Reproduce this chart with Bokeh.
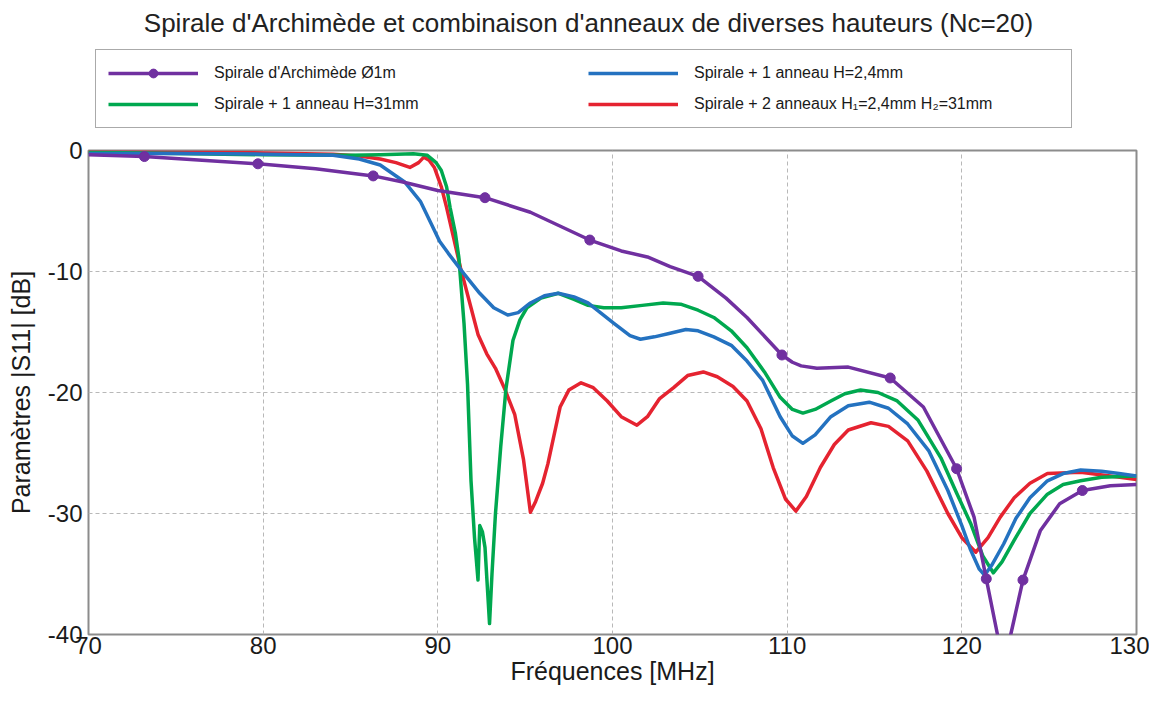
from bokeh.plotting import figure
from bokeh.models import Range1d, FixedTicker, Legend, LegendItem, Label
from bokeh.layouts import column
from bokeh.embed import file_html
from bokeh.resources import INLINE

# ---- data ----
f_purple = [70, 73.2, 76.5, 79.7, 83, 86.3, 88, 90, 92.7, 95.3, 98.7, 100.5, 102, 103.3, 104.9, 106.5,
            107.7, 109.7, 110.3, 110.8, 111.7, 113.5, 115.9, 117.8, 119.7, 120.7, 121.4, 122.04, 122.4,
            122.8, 123.5, 124.5, 125.6, 126.9, 128.5, 130]
v_purple = [-0.35, -0.5, -0.8, -1.1, -1.5, -2.1, -2.6, -3.3, -3.9, -5.1, -7.4, -8.3, -8.8, -9.6, -10.4, -12.2,
            -13.8, -16.9, -17.5, -17.8, -18.0, -17.9, -18.8, -21.2, -26.3, -30.3, -35.4, -40.0, -43.0,
            -40.0, -35.5, -31.4, -29.2, -28.1, -27.7, -27.6]
f_markers = [73.2, 79.7, 86.3, 92.7, 98.7, 104.9, 109.7, 115.9, 119.7, 121.4, 123.5, 126.9]
v_markers = [-0.5, -1.1, -2.1, -3.9, -7.4, -10.4, -16.9, -18.8, -26.3, -35.4, -35.5, -28.1]

f_blue = [70, 75, 80, 84, 85.5, 86.7, 88.1, 89, 89.6, 90.1, 90.6, 91.5, 92.4, 93.2, 94.0, 94.6, 95.3,
          96.1, 96.9, 97.8, 98.6, 100.1, 101.0, 101.6, 102.4, 103.3, 104.2, 104.9, 105.8, 106.8, 107.7,
          108.6, 109.6, 110.3, 110.9, 111.6, 112.5, 113.5, 114.7, 115.8, 116.9, 118.1, 119.2, 120.0,
          120.5, 121.0, 121.3, 121.7, 122.4, 123.1, 123.9, 124.9, 125.8, 126.8, 128, 129, 130]
v_blue = [-0.25, -0.25, -0.3, -0.4, -0.7, -1.2, -2.6, -4.2, -6.0, -7.5, -8.5, -10.2, -11.8, -13.0, -13.6, -13.4, -12.6,
          -12.0, -11.8, -12.1, -12.6, -14.3, -15.3, -15.6, -15.4, -15.1, -14.8, -14.9, -15.4, -16.1, -17.4,
          -19.0, -22.0, -23.6, -24.2, -23.5, -22.0, -21.1, -20.8, -21.3, -22.6, -24.8, -28.1, -31.0,
          -33.0, -34.6, -35.1, -34.3, -32.5, -30.4, -28.7, -27.3, -26.7, -26.4, -26.5, -26.7, -26.9]

f_green = [70, 75, 80, 85, 86.7, 88.6, 89.4, 89.9, 90.2, 90.5, 90.7, 91.0, 91.2, 91.5, 91.7, 91.9, 92.1,
           92.3, 92.4, 92.55, 92.7, 92.96, 93.1, 93.3, 93.6, 93.9, 94.3, 94.7, 95.1, 95.9, 96.9, 97.8,
           98.6, 99.5, 100.5, 101.7, 102.9, 103.9, 104.9, 105.8, 106.8, 107.7, 108.7, 109.6, 110.3,
           110.9, 111.6, 112.5, 113.3, 114.2, 115.2, 116.3, 117.5, 118.8, 119.7, 120.5, 121.2, 121.8,
           122.3, 123.0, 123.9, 124.9, 125.8, 126.8, 128, 130]
v_green = [-0.15, -0.25, -0.35, -0.4, -0.35, -0.27, -0.4, -1.0, -1.65, -3.0, -4.7, -6.8, -8.8, -14.3, -19.3, -27.3, -32.0,
           -35.5, -31.0, -31.5, -32.8, -39.1, -35.0, -30.0, -24.5, -19.7, -15.7, -14.0, -13.0, -12.2, -11.8, -12.3,
           -12.8, -13.0, -13.0, -12.8, -12.6, -12.7, -13.2, -13.8, -14.9, -16.3, -18.3, -20.4, -21.4,
           -21.7, -21.4, -20.7, -20.1, -19.8, -20.0, -20.7, -22.3, -25.4, -28.3, -30.8, -33.5, -34.9,
           -34.0, -32.2, -30.0, -28.4, -27.6, -27.3, -27.0, -26.9]

f_red = [70, 75, 80, 84, 85.5, 86.7, 87.6, 88.4, 88.9, 89.2, 89.5, 89.8, 90.2, 90.5, 90.9, 91.3, 91.9,
         92.3, 92.8, 93.3, 93.8, 94.4, 94.9, 95.3, 95.6, 96.0, 96.3, 97.0, 97.5, 98.2, 98.9, 99.7, 100.5,
         101.4, 102.0, 102.7, 103.5, 104.3, 105.2, 106.0, 106.9, 107.7, 108.5, 109.2, 109.9, 110.5,
         111.1, 111.9, 112.7, 113.5, 114.8, 115.8, 116.9, 118.0, 119.2, 120.0, 120.8, 121.5, 122.2,
         123.0, 123.9, 124.9, 126.8, 128.5, 130]
v_red = [-0.1, -0.15, -0.2, -0.3, -0.45, -0.7, -1.0, -1.4, -1.0, -0.55, -0.8, -1.4, -3.0, -4.7, -7.2, -9.7, -13.0,
         -15.2, -16.8, -18.0, -19.6, -21.8, -25.5, -29.9, -29.0, -27.5, -25.9, -21.2, -19.8, -19.2, -19.6, -20.7, -22.0,
         -22.7, -22.0, -20.5, -19.6, -18.6, -18.3, -18.7, -19.5, -20.7, -23.0, -26.2, -28.8, -29.8,
         -28.6, -26.2, -24.3, -23.1, -22.5, -22.8, -24.0, -26.5, -30.0, -32.0, -33.2, -32.0, -30.3,
         -28.7, -27.5, -26.7, -26.6, -26.9, -27.2]

x_ticks = [70, 80, 90, 100, 110, 120, 130]
y_ticks = [-40, -30, -20, -10, 0]

title_text = "Spirale d'Archimède et combinaison d'anneaux de diverses hauteurs (Nc=20)"
labels = ["Spirale d'Archimède Ø1m",
          "Spirale + 1 anneau H=2,4mm",
          "Spirale + 1 anneau H=31mm",
          "Spirale + 2 anneaux H\u2081=2,4mm H\u2082=31mm"]

PURPLE = "#7030A0"
BLUE = "#2472C0"
GREEN = "#00A84F"
RED = "#E52330"
FONT = "Liberation Sans"
LW = 3.5

HEAD_H = 130

# ---------- header: title + legend ----------
head = figure(width=1149, height=HEAD_H, output_backend="svg", toolbar_location=None,
              x_axis_type=None, y_axis_type=None, x_range=Range1d(0, 1), y_range=Range1d(0, 1),
              min_border=0, min_border_left=0, min_border_right=0, min_border_top=0, min_border_bottom=0)
head.outline_line_color = None
head.grid.visible = False
head.background_fill_color = "white"
head.border_fill_color = "white"

head.add_layout(Label(x=500, y=HEAD_H - 22, x_units="screen", y_units="screen", text=title_text,
                      text_align="center", text_baseline="middle", text_font=FONT,
                      text_font_size="26px", text_color="#222222"))

# legend samples (same series; they lie outside this header's ranges, only their styles show)
h_purple = head.line(f_purple, v_purple, line_color=PURPLE, line_width=LW)
h_pm = head.scatter(f_markers, v_markers, marker="circle", size=10, fill_color=PURPLE, line_color=PURPLE)
h_blue = head.line(f_blue, v_blue, line_color=BLUE, line_width=LW)
h_green = head.line(f_green, v_green, line_color=GREEN, line_width=LW)
h_red = head.line(f_red, v_red, line_color=RED, line_width=LW)

legend = Legend(items=[
    LegendItem(label=labels[0], renderers=[h_purple, h_pm]),
    LegendItem(label=labels[2], renderers=[h_green]),
    LegendItem(label=labels[1], renderers=[h_blue]),
    LegendItem(label=labels[3], renderers=[h_red]),
], ncols=2, location=(7, 2), margin=0)
legend.border_line_color = "#555555"
legend.border_line_width = 1.5
legend.background_fill_alpha = 1
legend.padding = 12
legend.spacing = 9
legend.label_text_font = FONT
legend.label_text_font_size = "16px"
legend.label_text_color = "#1a1a1a"
legend.glyph_width = 90
legend.glyph_height = 22
legend.label_height = 22
legend.label_standoff = 16
legend.label_width = 365
head.add_layout(legend, "center")

# ---------- main plot ----------
p = figure(width=1149, height=692 - HEAD_H, output_backend="svg", toolbar_location=None,
           x_range=Range1d(70, 130), y_range=Range1d(-40, 0),
           min_border_left=88, min_border_right=13, min_border_top=150 - HEAD_H, min_border_bottom=58)
p.outline_line_color = "#8c8c8c"
p.outline_line_width = 2
p.background_fill_color = "white"
p.border_fill_color = "white"

for ax in (p.xaxis[0], p.yaxis[0]):
    ax.axis_line_color = None
    ax.major_tick_line_color = None
    ax.minor_tick_line_color = None
    ax.major_tick_out = 0
    ax.major_tick_in = 0
    ax.minor_tick_out = 0
    ax.minor_tick_in = 0
    ax.major_label_text_font = FONT
    ax.major_label_text_font_size = "24px"
    ax.major_label_text_color = "#1a1a1a"
    ax.axis_label_text_font = FONT
    ax.axis_label_text_font_size = "25px"
    ax.axis_label_text_font_style = "normal"
    ax.axis_label_text_color = "#1a1a1a"

p.xaxis.ticker = FixedTicker(ticks=x_ticks)
p.yaxis.ticker = FixedTicker(ticks=y_ticks)
p.xaxis.major_label_overrides = {t: str(t) for t in x_ticks}
p.yaxis.major_label_overrides = {t: str(t) for t in y_ticks}
p.xaxis.axis_label = "Fréquences [MHz]"
p.yaxis.axis_label = "Paramètres |S11| [dB]"
p.xaxis.major_label_standoff = 2
p.yaxis.major_label_standoff = 6
p.xaxis.axis_label_standoff = 0
p.yaxis.axis_label_standoff = 10

p.xgrid.ticker = FixedTicker(ticks=x_ticks)
p.ygrid.ticker = FixedTicker(ticks=y_ticks)
for g in (p.xgrid[0], p.ygrid[0]):
    g.grid_line_color = "#b8b8b8"
    g.grid_line_dash = "4 3"
    g.grid_line_width = 1

p.line(f_red, v_red, line_color=RED, line_width=LW, line_join="round")
p.line(f_green, v_green, line_color=GREEN, line_width=LW, line_join="round")
p.line(f_blue, v_blue, line_color=BLUE, line_width=LW, line_join="round")
p.line(f_purple, v_purple, line_color=PURPLE, line_width=LW, line_join="round")
p.scatter(f_markers, v_markers, marker="circle", size=10, fill_color=PURPLE, line_color=PURPLE)

layout = column(head, p, spacing=0)
open("out.html", "w").write(file_html(layout, INLINE))
